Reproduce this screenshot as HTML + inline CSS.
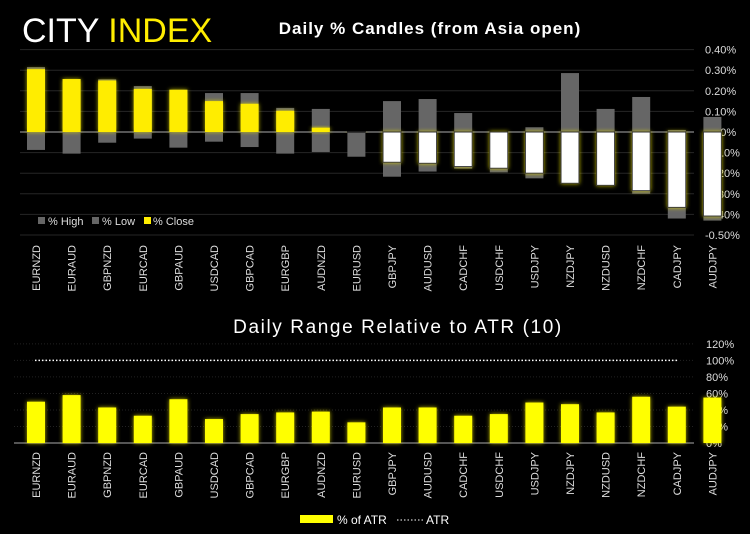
<!DOCTYPE html>
<html><head><meta charset="utf-8"><style>
body{margin:0;background:#000;}
svg{display:block;font-family:"Liberation Sans",sans-serif;}
</style></head><body>
<svg id="c" width="750" height="534" viewBox="0 0 750 534">
<defs>
<filter id="glow" x="-50%" y="-50%" width="200%" height="200%"><feDropShadow dx="0" dy="0" stdDeviation="2" flood-color="#e8e000" flood-opacity="0.8"/></filter>
</defs>
<rect width="750" height="534" fill="#000"/>
<text x="22" y="42" font-size="34" fill="#fff">CITY <tspan fill="#ffed00">INDEX</tspan></text>
<text x="430" y="34" font-size="17" font-weight="bold" fill="#fff" text-anchor="middle" letter-spacing="1">Daily % Candles (from Asia open)</text>
<text x="398" y="333" font-size="19" fill="#fff" text-anchor="middle" letter-spacing="1.6">Daily Range Relative to ATR (10)</text>
<g id="topg"></g><g id="botg"></g>
<g font-size="11" fill="#ddd">
<rect x="38" y="217" width="7" height="7" fill="#666"/><text x="48" y="225">% High</text>
<rect x="92" y="217" width="7" height="7" fill="#666"/><text x="102" y="225">% Low</text>
<rect x="144" y="217" width="7" height="7" fill="#ffed00"/><text x="153" y="225">% Close</text>
</g>
<g font-size="12" fill="#fff">
<rect x="300" y="515" width="33" height="8" fill="#ffff00"/><text x="337" y="524">% of ATR</text>
<line x1="397" y1="520" x2="423" y2="520" stroke="#fff" stroke-dasharray="1.5,2"/><text x="426" y="524">ATR</text>
</g>
</svg>
<script>
const cats=["EURNZD","EURAUD","GBPNZD","EURCAD","GBPAUD","USDCAD","GBPCAD","EURGBP","AUDNZD","EURUSD","GBPJPY","AUDUSD","CADCHF","USDCHF","USDJPY","NZDJPY","NZDUSD","NZDCHF","CADJPY","AUDJPY"];
const highs=[0.315,0.257,0.256,0.223,0.205,0.189,0.189,0.117,0.112,0,0.15,0.16,0.092,0,0.023,0.286,0.112,0.17,0.01,0.073];
const lows=[-0.087,-0.105,-0.052,-0.032,-0.076,-0.047,-0.073,-0.105,-0.097,-0.12,-0.217,-0.192,-0.178,-0.196,-0.225,-0.249,-0.259,-0.3,-0.42,-0.43];
const closes=[0.305,0.257,0.25,0.209,0.205,0.15,0.137,0.103,0.021,-0.003,-0.147,-0.152,-0.168,-0.176,-0.2,-0.249,-0.259,-0.285,-0.366,-0.408];
const atrPct=[50,58,43,33,53,29,35,37,38,25,43,43,33,35,49,47,37,56,44,55];
const topTicks=[0.4,0.3,0.2,0.1,0,-0.1,-0.2,-0.3,-0.4,-0.5];
const botTicks=[0,20,40,60,80,100,120];
(function(){
const NS="http://www.w3.org/2000/svg";
function mk(p,t,a){const e=document.createElementNS(NS,t);for(const k in a)e.setAttribute(k,a[k]);p.appendChild(e);return e;}
const xC=i=>36+i*35.6;
const yT=v=>132-v*206;
const yB=v=>443-v*0.826;
const tg=document.getElementById('topg'),bg=document.getElementById('botg');
topTicks.forEach(t=>{
 const l=mk(tg,'line',{x1:20,x2:694,y1:yT(t),y2:yT(t),stroke:t===0?'#aaa':'#262626','stroke-width':1});
 
 
 const tx=mk(tg,'text',{x:705,y:yT(t)+4,'font-size':11,fill:'#ddd'});
 tx.textContent=t.toFixed(2)+'%';
 
 
});
cats.forEach((c,i)=>{
 const x=xC(i)-9,w=18;
 const h=mk(tg,'rect',{x:x,y:yT(highs[i]),width:w,height:Math.max(0,yT(0)-yT(highs[i])),fill:'#666'});
 
 
 const lo=mk(tg,'rect',{x:x,y:yT(0),width:w,height:Math.max(0,yT(lows[i])-yT(0)),fill:'#666'});
 
 
 const v=closes[i],pos=v>=0;
 const cl=mk(tg,'rect',{x:x,y:pos?yT(v):yT(0),width:w,height:Math.abs(yT(v)-yT(0)),fill:pos?'#ffed00':'#fff',stroke:pos?'none':'#333','stroke-width':1,filter:'url(#glow)'});
 
 
 const lt=mk(tg,'text',{transform:`translate(${xC(i)+4},245) rotate(-90)`,'font-size':11,fill:'#ddd','text-anchor':'end'});
 lt.textContent=c;
 
 
});
botTicks.forEach(t=>{
 const l=mk(bg,'line',{x1:14,x2:694,y1:yB(t),y2:yB(t),stroke:t===0?'#aaa':'#222','stroke-width':1,'stroke-dasharray':t===0?'none':'1,2'});
 
 
 const tx=mk(bg,'text',{x:706,y:yB(t)+4,'font-size':11,fill:'#ddd'});
 tx.textContent=t+'%';
 
 
});
const atr=mk(bg,'line',{x1:35,x2:678,y1:yB(100),y2:yB(100),stroke:'#fff','stroke-width':1.5,'stroke-dasharray':'1.5,2'});


cats.forEach((c,i)=>{
 const b=mk(bg,'rect',{x:xC(i)-9,y:yB(atrPct[i]),width:18,height:yB(0)-yB(atrPct[i]),fill:'#ffff00',filter:'url(#glow)'});
 
 
 const lt=mk(bg,'text',{transform:`translate(${xC(i)+4},452) rotate(-90)`,'font-size':11,fill:'#ddd','text-anchor':'end'});
 lt.textContent=c;
 
 
});
})();
</script>
</body></html>
